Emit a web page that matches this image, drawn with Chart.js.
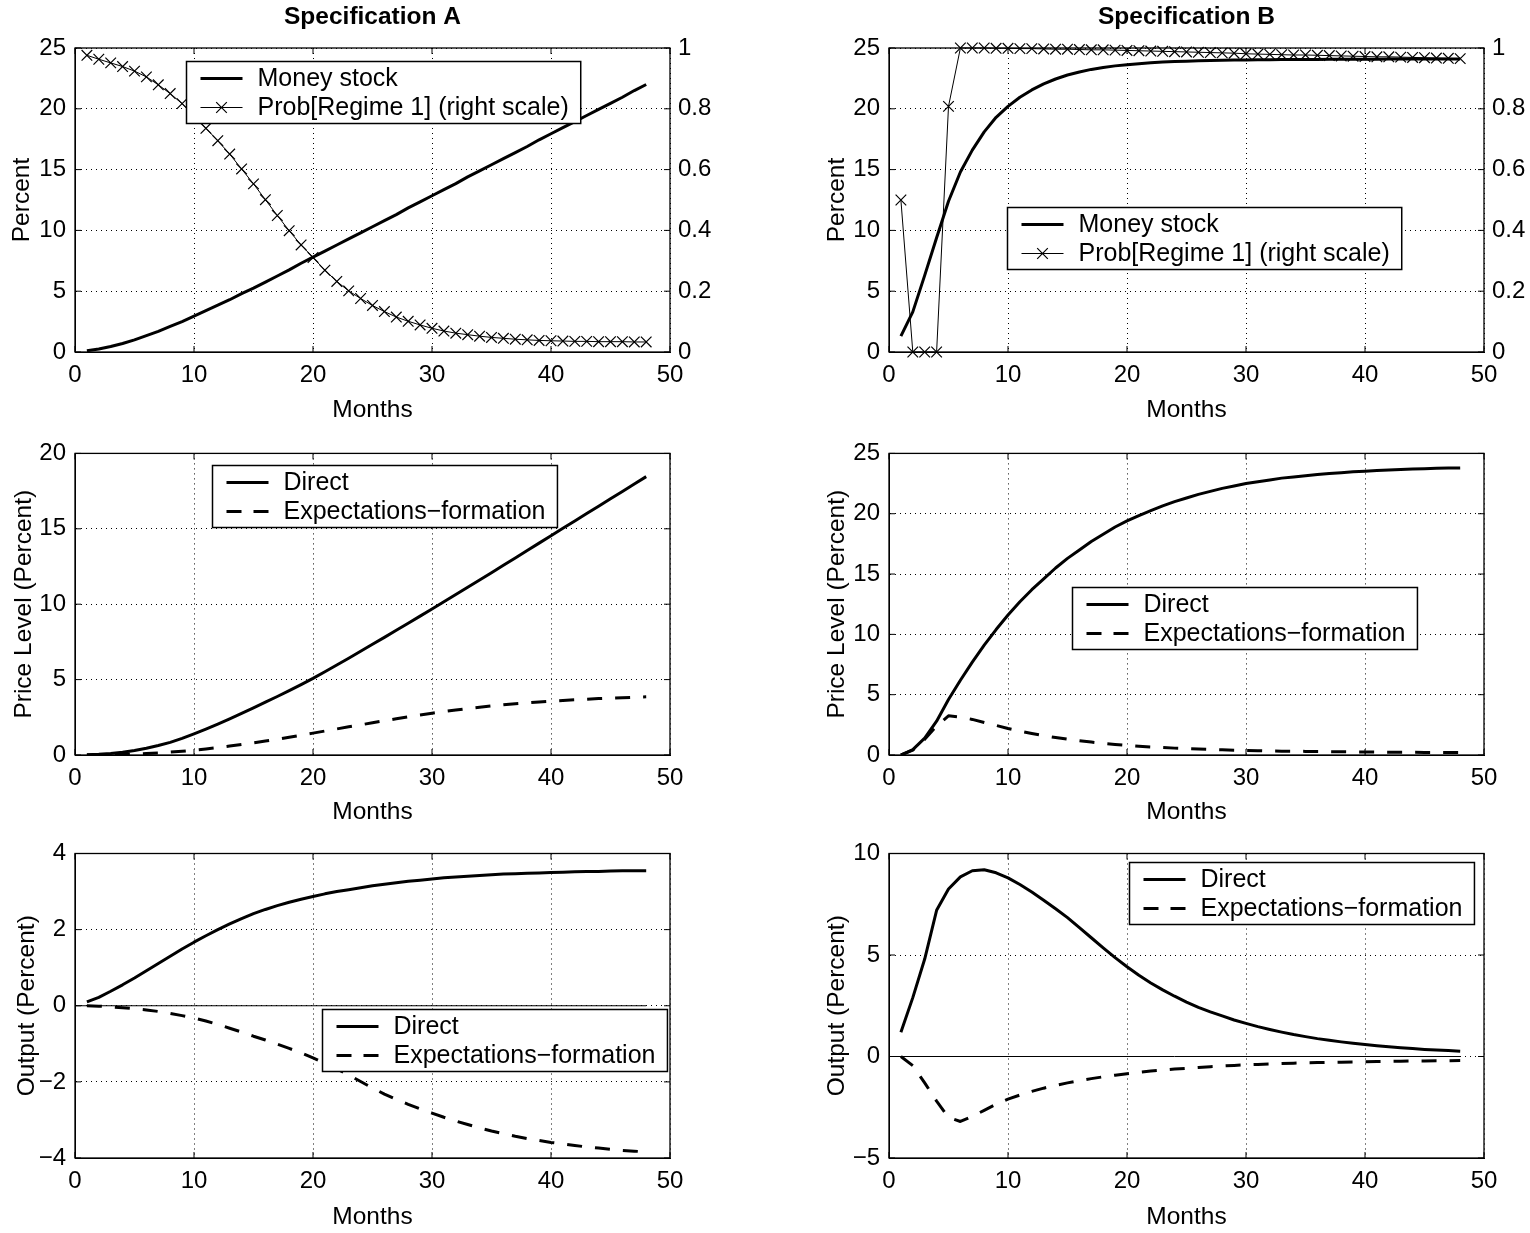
<!DOCTYPE html>
<html>
<head>
<meta charset="utf-8">
<script src="https://cdn.jsdelivr.net/npm/chart.js@4.4.0/dist/chart.umd.min.js"></script>
<style>
  body { margin: 0; background: #fff; }
  .panel { position: absolute; }
</style>
</head>
<body>
<div class="panel" style="left:0;top:0;width:765px;height:430px"><canvas id="a1"></canvas></div>
<div class="panel" style="left:810px;top:0;width:720px;height:430px"><canvas id="b1"></canvas></div>
<div class="panel" style="left:0;top:430px;width:765px;height:400px"><canvas id="a2"></canvas></div>
<div class="panel" style="left:810px;top:430px;width:720px;height:400px"><canvas id="b2"></canvas></div>
<div class="panel" style="left:0;top:830px;width:765px;height:403px"><canvas id="a3"></canvas></div>
<div class="panel" style="left:810px;top:830px;width:720px;height:403px"><canvas id="b3"></canvas></div>
<script>
// DATA
const months = [1, 2, 3, 4, 5, 6, 7, 8, 9, 10, 11, 12, 13, 14, 15, 16, 17, 18, 19, 20, 21, 22, 23, 24,
  25, 26, 27, 28, 29, 30, 31, 32, 33, 34, 35, 36, 37, 38, 39, 40, 41, 42, 43, 44, 45, 46, 47, 48];
const zeroLineX = [0, 48];
const zeroLineY = [0, 0];

// Specification A
const moneyA = [0.1, 0.25, 0.45, 0.7, 1.0, 1.35, 1.7, 2.1, 2.5, 2.95, 3.4, 3.85, 4.3, 4.8, 5.25, 5.75,
  6.25, 6.75, 7.3, 7.8, 8.3, 8.8, 9.3, 9.8, 10.3, 10.8, 11.3, 11.85, 12.35, 12.85, 13.35, 13.85,
  14.4, 14.9, 15.4, 15.9, 16.4, 16.9, 17.45, 17.95, 18.45, 18.95, 19.45, 19.95, 20.45, 20.95, 21.5, 22.0];
const probA = [0.976, 0.963, 0.951, 0.939, 0.924, 0.905, 0.879, 0.85, 0.817, 0.778, 0.736, 0.695,
  0.651, 0.602, 0.553, 0.501, 0.449, 0.399, 0.352, 0.311, 0.269, 0.232, 0.201, 0.176, 0.153, 0.133,
  0.115, 0.101, 0.089, 0.078, 0.069, 0.062, 0.057, 0.052, 0.048, 0.045, 0.042, 0.04, 0.038, 0.037,
  0.036, 0.035, 0.035, 0.034, 0.034, 0.034, 0.033, 0.033];
const priceDirectA = [0.02, 0.05, 0.1, 0.18, 0.3, 0.45, 0.63, 0.84, 1.1, 1.4, 1.72, 2.05, 2.4, 2.76,
  3.12, 3.5, 3.88, 4.27, 4.67, 5.08, 5.52, 5.97, 6.42, 6.88, 7.34, 7.8, 8.27, 8.74, 9.21, 9.68, 10.16,
  10.64, 11.12, 11.6, 12.09, 12.58, 13.07, 13.56, 14.05, 14.54, 15.03, 15.52, 16.01, 16.5, 16.99,
  17.48, 17.97, 18.46];
const priceExpA = [0.0, 0.01, 0.02, 0.04, 0.07, 0.1, 0.14, 0.19, 0.25, 0.32, 0.4, 0.49, 0.59, 0.7,
  0.81, 0.93, 1.05, 1.18, 1.31, 1.45, 1.59, 1.73, 1.87, 2.0, 2.14, 2.27, 2.4, 2.53, 2.65, 2.77, 2.88,
  2.98, 3.08, 3.17, 3.25, 3.33, 3.4, 3.46, 3.52, 3.57, 3.62, 3.66, 3.7, 3.74, 3.77, 3.8, 3.83, 3.86];
const outDirectA = [0.1, 0.22, 0.38, 0.55, 0.73, 0.92, 1.11, 1.3, 1.49, 1.67, 1.84, 2.0, 2.15, 2.29,
  2.42, 2.53, 2.63, 2.72, 2.8, 2.87, 2.94, 3.0, 3.05, 3.1, 3.15, 3.19, 3.23, 3.27, 3.3, 3.33, 3.36,
  3.38, 3.4, 3.42, 3.44, 3.46, 3.47, 3.48, 3.49, 3.5, 3.51, 3.52, 3.53, 3.53, 3.54, 3.55, 3.55, 3.55];
const outExpA = [0, -0.01, -0.03, -0.05, -0.08, -0.11, -0.15, -0.2, -0.26, -0.32, -0.4, -0.49,
  -0.59, -0.69, -0.8, -0.9, -1.01, -1.12, -1.24, -1.37, -1.51, -1.66, -1.82, -1.99, -2.16, -2.32,
  -2.46, -2.59, -2.71, -2.82, -2.93, -3.03, -3.12, -3.21, -3.29, -3.36, -3.43, -3.49, -3.54, -3.59,
  -3.63, -3.67, -3.71, -3.74, -3.77, -3.8, -3.82, -3.84];

// Specification B
const moneyB = [1.3, 3.3, 6.3, 9.4, 12.4, 14.8, 16.6, 18.1, 19.3, 20.2, 20.95, 21.55, 22.05, 22.45,
  22.78, 23.03, 23.24, 23.4, 23.53, 23.63, 23.71, 23.78, 23.84, 23.88, 23.92, 23.95, 23.97, 23.99,
  24.01, 24.02, 24.03, 24.04, 24.05, 24.05, 24.06, 24.06, 24.07, 24.07, 24.08, 24.08, 24.08, 24.09,
  24.09, 24.09, 24.1, 24.1, 24.1, 24.1];
const probB = [0.5, 0, 0, 0, 0.808, 1.0, 1.0, 1.0, 0.999, 0.999, 0.998, 0.998, 0.997, 0.996, 0.996,
  0.995, 0.994, 0.994, 0.993, 0.992, 0.991, 0.99, 0.989, 0.988, 0.987, 0.986, 0.985, 0.984, 0.983,
  0.981, 0.98, 0.979, 0.978, 0.977, 0.977, 0.976, 0.975, 0.974, 0.973, 0.972, 0.971, 0.971, 0.97,
  0.969, 0.968, 0.967, 0.966, 0.965];
const priceDirectB = [0, 0.45, 1.4, 2.8, 4.6, 6.2, 7.7, 9.1, 10.4, 11.6, 12.7, 13.7, 14.6, 15.5, 16.3,
  17.0, 17.7, 18.3, 18.9, 19.4, 19.85, 20.25, 20.65, 21.0, 21.3, 21.6, 21.85, 22.1, 22.3, 22.5, 22.65,
  22.8, 22.95, 23.05, 23.15, 23.25, 23.33, 23.4, 23.47, 23.53, 23.58, 23.62, 23.66, 23.7, 23.73,
  23.76, 23.78, 23.8];
const priceExpB = [0, 0.4, 1.3, 2.4, 3.25, 3.15, 2.95, 2.7, 2.45, 2.2, 1.98, 1.78, 1.6, 1.45, 1.31,
  1.18, 1.07, 0.97, 0.88, 0.8, 0.73, 0.67, 0.62, 0.57, 0.53, 0.49, 0.46, 0.43, 0.4, 0.38, 0.36, 0.34,
  0.32, 0.31, 0.3, 0.29, 0.28, 0.27, 0.26, 0.25, 0.24, 0.23, 0.22, 0.22, 0.21, 0.21, 0.2, 0.2];
const outDirectB = [1.2, 2.9, 4.8, 7.2, 8.25, 8.85, 9.15, 9.2, 9.05, 8.8, 8.47, 8.1, 7.7, 7.28, 6.84,
  6.35, 5.85, 5.35, 4.87, 4.42, 4.0, 3.62, 3.28, 2.97, 2.68, 2.42, 2.2, 2.0, 1.8, 1.63, 1.47, 1.33,
  1.2, 1.08, 0.98, 0.88, 0.8, 0.72, 0.65, 0.59, 0.53, 0.48, 0.43, 0.39, 0.35, 0.32, 0.29, 0.26];
const outExpB = [0, -0.45, -1.3, -2.2, -3.0, -3.2, -2.95, -2.65, -2.35, -2.1, -1.9, -1.72, -1.56,
  -1.42, -1.3, -1.19, -1.09, -1.0, -0.92, -0.85, -0.78, -0.72, -0.67, -0.62, -0.58, -0.54, -0.5,
  -0.47, -0.44, -0.41, -0.39, -0.37, -0.35, -0.33, -0.31, -0.3, -0.29, -0.28, -0.27, -0.26, -0.25,
  -0.24, -0.23, -0.22, -0.22, -0.21, -0.21, -0.2];

const FONT = "'Liberation Sans', Arial, Helvetica, sans-serif";
Chart.defaults.font.family = FONT;
Chart.defaults.color = '#000';

function pts(xs, ys) {
  return ys.map((v, i) => ({ x: xs[i], y: v }));
}

// box round the plot and small inward ticks, matlab style
const frame = {
  id: 'frame',
  afterDraw(chart) {
    const { ctx, chartArea: a, scales } = chart;
    ctx.save();
    ctx.strokeStyle = '#000';
    ctx.lineWidth = 1.3;
    ctx.strokeRect(a.left, a.top, a.right - a.left, a.bottom - a.top);
    ctx.lineWidth = 1;
    ctx.beginPath();
    scales.x.ticks.forEach(t => {
      const px = scales.x.getPixelForValue(t.value);
      ctx.moveTo(px, a.bottom); ctx.lineTo(px, a.bottom - 6);
      ctx.moveTo(px, a.top); ctx.lineTo(px, a.top + 6);
    });
    scales.y.ticks.forEach(t => {
      const py = scales.y.getPixelForValue(t.value);
      ctx.moveTo(a.left, py); ctx.lineTo(a.left + 6, py);
      ctx.moveTo(a.right, py); ctx.lineTo(a.right - 6, py);
    });
    ctx.stroke();
    ctx.restore();
  }
};

// legend box placed inside the plot (fractions of the chart area)
const boxLegend = {
  id: 'boxLegend',
  afterDatasetsDraw(chart, args, opts) {
    const { ctx, chartArea: a } = chart;
    const items = chart.data.datasets.filter(d => d.label);
    ctx.save();
    ctx.font = '25px ' + FONT;
    const tw = Math.max(...items.map(d => ctx.measureText(d.label).width));
    const w = 71 + tw + 12, h = 62;
    const x = Math.round(a.left + opts.left * (a.right - a.left)) + 0.5;
    const y = Math.round(a.top + opts.top * (a.bottom - a.top)) + 0.5;
    ctx.fillStyle = '#fff';
    ctx.fillRect(x, y, w, h);
    ctx.strokeStyle = '#000';
    ctx.lineWidth = 1.5;
    ctx.strokeRect(x, y, w, h);
    items.forEach((d, i) => {
      const cy = y + 17 + i * 29;
      ctx.lineWidth = d.borderWidth;
      ctx.setLineDash(d.borderDash ? [15, 12] : []);
      ctx.beginPath();
      ctx.moveTo(x + 14, cy);
      ctx.lineTo(x + 56, cy);
      ctx.stroke();
      ctx.setLineDash([]);
      if (d.pointRadius) {
        const r = d.pointRadius * Math.SQRT1_2;
        ctx.lineWidth = 1.2;
        ctx.beginPath();
        ctx.moveTo(x + 35 - r, cy - r); ctx.lineTo(x + 35 + r, cy + r);
        ctx.moveTo(x + 35 + r, cy - r); ctx.lineTo(x + 35 - r, cy + r);
        ctx.stroke();
      }
      ctx.fillStyle = '#000';
      ctx.textBaseline = 'middle';
      ctx.fillText(d.label, x + 71, cy + 1);
    });
    ctx.restore();
  }
};

function minus(v) {
  return v < 0 ? '\u2212' + Math.abs(v) : String(v);
}

function axisGrid() {
  return { color: '#000', lineWidth: 1, drawTicks: false };
}

function thick(label, xs, ys, dashed) {
  return {
    label: label, data: pts(xs, ys), borderColor: '#000', borderWidth: 3,
    borderDash: dashed ? [15, 13] : undefined, pointRadius: 0, tension: 0,
    borderJoinStyle: 'round', yAxisID: 'y'
  };
}

function zeroLine() {
  return { data: pts(zeroLineX, zeroLineY), borderColor: '#000', borderWidth: 1, pointRadius: 0, yAxisID: 'y' };
}

function probLine(ys) {
  return {
    label: 'Prob[Regime 1] (right scale)', data: pts(months, ys), borderColor: '#000', borderWidth: 1,
    pointStyle: 'crossRot', pointRadius: 7.5, pointBorderWidth: 1.2, pointBorderColor: '#000',
    pointBackgroundColor: 'rgba(0,0,0,0)', tension: 0, yAxisID: 'y1', clip: 10
  };
}

function panel(id, o) {
  const scales = {
    x: {
      type: 'linear', min: 0, max: 50,
      ticks: { stepSize: 10, padding: 8.5, font: { size: 24 }, maxRotation: 0 },
      grid: axisGrid(), border: { dash: [1, 4], color: '#000' },
      title: { display: true, text: 'Months', font: { size: 24.5 }, padding: { top: 0, bottom: o.xTitlePad } },
      afterFit: s => { s.height = o.xBox; }
    },
    y: {
      type: 'linear', position: 'left', min: o.yMin, max: o.yMax,
      ticks: { stepSize: o.yStep, padding: 9, font: { size: 24 }, callback: minus },
      grid: axisGrid(), border: { dash: [1, 4], color: '#000' },
      title: { display: true, text: o.yTitle, font: { size: 24.5 }, padding: { top: o.yTitlePad, bottom: 0 } },
      afterFit: s => { s.width = o.yWidth; }
    }
  };
  if (o.rightAxis) {
    scales.y1 = {
      type: 'linear', position: 'right', min: 0, max: 1,
      ticks: { stepSize: 0.2, padding: 8, font: { size: 24 }, callback: v => String(Math.round(v * 10) / 10) },
      grid: { drawOnChartArea: false, drawTicks: false }, border: { display: false },
      afterFit: s => { s.width = o.rightWidth; }
    };
  }
  return new Chart(document.getElementById(id), {
    type: 'line',
    data: { datasets: o.datasets },
    options: {
      responsive: true, maintainAspectRatio: false, animation: false,
      layout: { padding: { top: o.padTop || 0, right: o.rightAxis ? 0 : o.rightWidth, left: 0, bottom: 0 } },
      scales: scales,
      plugins: {
        legend: { display: false },
        tooltip: { enabled: false },
        title: o.title ? {
          display: true, text: o.title, fullSize: false,
          font: { size: 24.5, weight: 'bold' }, padding: { top: 3, bottom: 15.6 }
        } : { display: false },
        boxLegend: o.legend
      }
    },
    plugins: [frame, boxLegend]
  });
}

// row 1
panel('a1', {
  title: 'Specification A', yTitle: 'Percent', yMin: 0, yMax: 25, yStep: 5,
  yWidth: 75, rightWidth: 95, rightAxis: true, xBox: 78, xTitlePad: 5.3, yTitlePad: 7.3,
  legend: { left: 0.187, top: 0.043 },
  datasets: [thick('Money stock', months, moneyA), probLine(probA)]
});
panel('b1', {
  title: 'Specification B', yTitle: 'Percent', yMin: 0, yMax: 25, yStep: 5,
  yWidth: 79, rightWidth: 46, rightAxis: true, xBox: 78, xTitlePad: 5.3, yTitlePad: 12.3,
  legend: { left: 0.198, top: 0.523 },
  datasets: [thick('Money stock', months, moneyB), probLine(probB)]
});

// row 2
panel('a2', {
  yTitle: 'Price Level (Percent)', yMin: 0, yMax: 20, yStep: 5, padTop: 21,
  yWidth: 75, rightWidth: 95, xBox: 75, xTitlePad: 3.3, yTitlePad: 9.8,
  legend: { left: 0.230, top: 0.040 },
  datasets: [thick('Direct', months, priceDirectA), thick('Expectations\u2212formation', months, priceExpA, true)]
});
panel('b2', {
  yTitle: 'Price Level (Percent)', yMin: 0, yMax: 25, yStep: 5, padTop: 21,
  yWidth: 79, rightWidth: 46, xBox: 75, xTitlePad: 3.3, yTitlePad: 13,
  legend: { left: 0.307, top: 0.443 },
  datasets: [thick('Direct', months, priceDirectB), thick('Expectations\u2212formation', months, priceExpB, true)]
});

// row 3
panel('a3', {
  yTitle: 'Output (Percent)', yMin: -4, yMax: 4, yStep: 2, padTop: 23.5,
  yWidth: 75, rightWidth: 95, xBox: 75, xTitlePad: 1, yTitlePad: 13,
  legend: { left: 0.4156, top: 0.512 },
  datasets: [thick('Direct', months, outDirectA), thick('Expectations\u2212formation', months, outExpA, true), zeroLine()]
});
panel('b3', {
  yTitle: 'Output (Percent)', yMin: -5, yMax: 10, yStep: 5, padTop: 23.5,
  yWidth: 79, rightWidth: 46, xBox: 75, xTitlePad: 1, yTitlePad: 13,
  legend: { left: 0.403, top: 0.029 },
  datasets: [thick('Direct', months, outDirectB), thick('Expectations\u2212formation', months, outExpB, true), zeroLine()]
});
</script>
</body>
</html>
